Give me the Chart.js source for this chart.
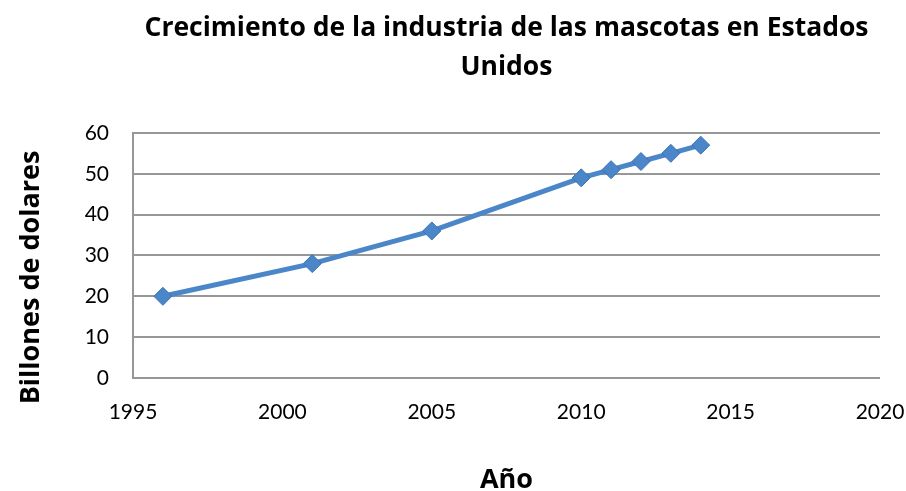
<!DOCTYPE html>
<html>
<head>
<meta charset="utf-8">
<script src="https://cdn.jsdelivr.net/npm/chart.js@4"></script>
<style>
  html, body { margin: 0; padding: 0; background: #fff; }
  #wrap { width: 906px; height: 491px; }
</style>
</head>
<body>
<div id="wrap"><canvas id="petChart" width="906" height="491"></canvas></div>
<script>
// datos
const years = [1996, 2001, 2005, 2010, 2011, 2012, 2013, 2014];
const billions = [20, 28, 36, 49, 51, 53, 55, 57];
const xTicks = [1995, 2000, 2005, 2010, 2015, 2020];
const yTicks = [0, 10, 20, 30, 40, 50, 60];
const yTitle = 'Billones de dolares';

const TICK_FONT = "Lato, 'Open Sans', sans-serif";
const TITLE_FONT = "'Open Sans', 'Noto Sans', sans-serif";
const lineColor = '#4a86c8';
const gridColor = '#979797';

// titulo del eje Y, un poco mas abajo del centro como en Excel
const yTitlePlugin = {
    id: 'yTitle',
    afterDraw(chart) {
        const c = chart.ctx;
        const area = chart.chartArea;
        c.save();
        c.translate(31, (area.top + area.bottom) / 2 + 22);
        c.rotate(-Math.PI / 2);
        c.font = "bold 27px " + TITLE_FONT;
        c.fillStyle = '#000';
        c.textAlign = 'center';
        c.textBaseline = 'middle';
        c.fillText(yTitle, 0, 0);
        c.restore();
    }
};

const ctx = document.getElementById('petChart').getContext('2d');
const petChart = new Chart(ctx, {
    type: 'line',
    data: {
        datasets: [{
            label: yTitle,
            data: years.map((y, i) => ({ x: y, y: billions[i] })),
            borderColor: lineColor,
            backgroundColor: lineColor,
            borderWidth: 5,
            pointStyle: 'rectRot',
            pointRadius: 9,
            pointBorderWidth: 1,
            pointBorderColor: '#3b73b3',
            tension: 0
        }]
    },
    plugins: [yTitlePlugin],
    options: {
        responsive: false,
        animation: false,
        layout: { padding: { left: 8, right: 0, top: 0, bottom: 0 } },
        plugins: {
            legend: { display: false },
            tooltip: { enabled: false },
            title: {
                display: true,
                fullSize: false,
                text: ['Crecimiento de la industria de las mascotas en Estados', 'Unidos'],
                color: '#000',
                font: { family: TITLE_FONT, size: 26.5, weight: 'bold', lineHeight: 1.47 },
                padding: { top: 9, bottom: 46 }
            }
        },
        scales: {
            x: {
                type: 'linear',
                min: xTicks[0],
                max: xTicks[xTicks.length - 1],
                afterBuildTicks: axis => { axis.ticks = xTicks.map(v => ({ value: v })); },
                grid: { display: false, drawTicks: false },
                border: { display: false },
                ticks: {
                    color: '#000',
                    padding: 22,
                    maxRotation: 0,
                    font: { family: TICK_FONT, size: 21 },
                    callback: v => String(v)
                },
                title: {
                    display: true,
                    text: 'Año',
                    color: '#000',
                    font: { family: TITLE_FONT, size: 27, weight: 'bold', lineHeight: 0.8 },
                    padding: { top: 38, bottom: 0 }
                },
                afterFit: axis => {
                    axis.height = 113;
                    axis.paddingRight = 26;
                }
            },
            y: {
                min: yTicks[0],
                max: yTicks[yTicks.length - 1],
                afterBuildTicks: axis => { axis.ticks = yTicks.map(v => ({ value: v })); },
                grid: { color: gridColor, lineWidth: 2, drawTicks: false },
                border: { display: true, color: gridColor, width: 2 },
                ticks: {
                    color: '#000',
                    padding: 24,
                    font: { family: TICK_FONT, size: 21 }
                },
                afterFit: axis => { axis.width = 125; }
            }
        }
    }
});
</script>
</body>
</html>
